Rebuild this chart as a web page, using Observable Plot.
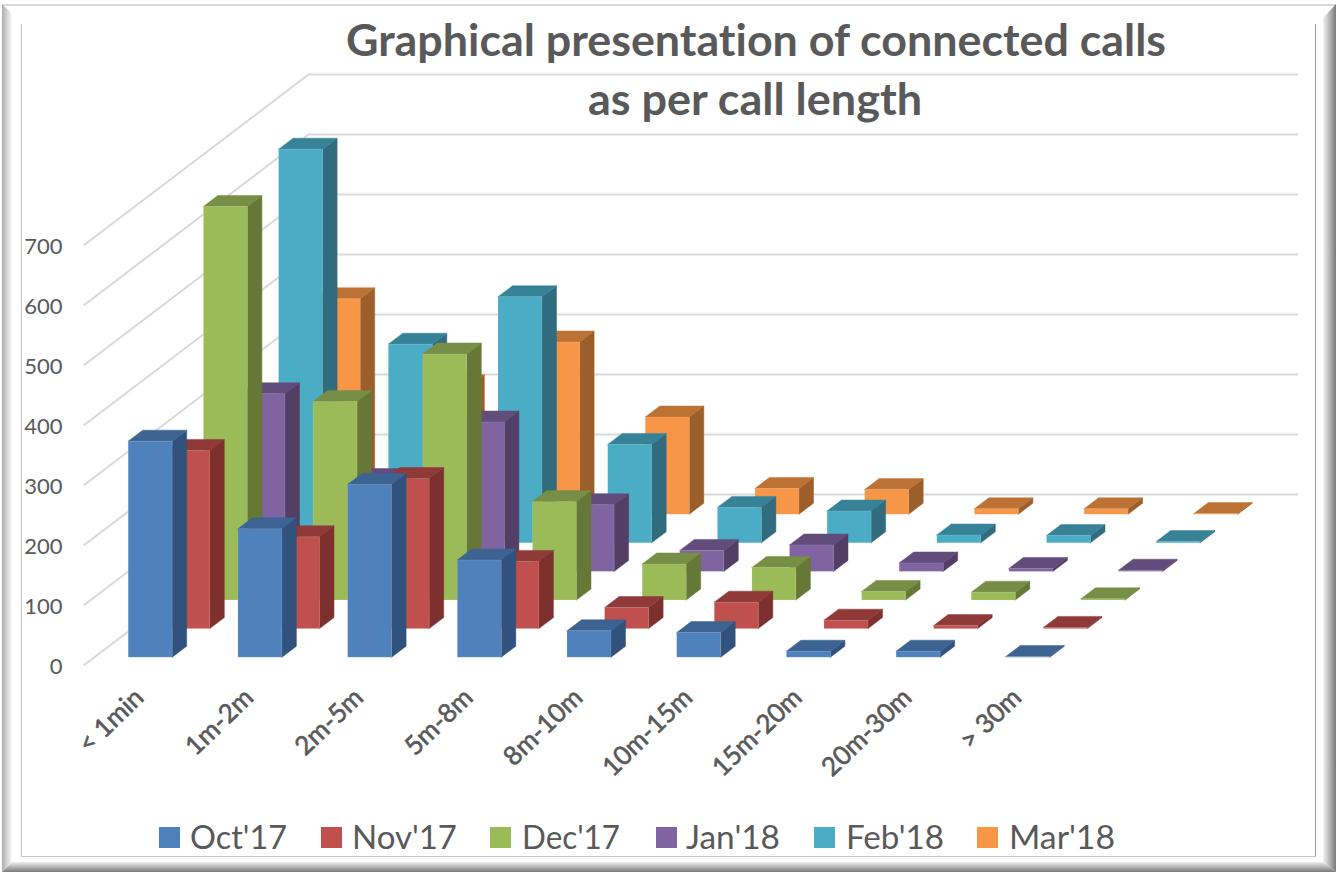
<!DOCTYPE html>
<html><head><meta charset="utf-8">
<script src="https://cdn.jsdelivr.net/npm/d3@7"></script>
<script src="https://cdn.jsdelivr.net/npm/@observablehq/plot@0.6"></script>
<style>
html,body{margin:0;padding:0;background:#fff;width:1336px;height:873px;overflow:hidden}
#chart{position:absolute;left:0;top:0}
#chart text{font-variant-ligatures:none}
.b{position:absolute}
.t{position:absolute;white-space:nowrap;color:#595959;font-family:Lato,sans-serif;transform-origin:0 0;font-variant-ligatures:none}
.sw{position:absolute;width:21px;height:21px;top:827px}
</style></head><body>
<div class="b" style="left:2px;top:4px;width:1334px;height:868px;background:#fff"></div>
<div class="b" style="left:2px;top:4px;width:1334px;height:2px;background:#d9d9d9"></div>
<div class="b" style="left:2px;top:4px;width:10px;height:868px;background:linear-gradient(90deg,#adadad,#fafafa);clip-path:polygon(0 0,100% 10px,100% 858px,0 100%)"></div>
<div class="b" style="left:1323px;top:4px;width:13px;height:868px;background:linear-gradient(90deg,#f4f4f4,#7a7a7a);clip-path:polygon(100% 0,0 14px,0 858px,100% 100%)"></div>
<div class="b" style="left:2px;top:862px;width:1334px;height:10px;background:linear-gradient(180deg,#efefef,#7a7a7a);clip-path:polygon(10px 0,1321px 0,100% 100%,0 100%)"></div>
<div class="b" style="left:21px;top:24px;width:1px;height:832px;background:#c8c8c8"></div>
<div class="b" style="left:1315px;top:24px;width:1px;height:832px;background:#9a9a9a"></div>
<div class="b" style="left:21px;top:856px;width:1295px;height:1px;background:#c8c8c8"></div>
<div id="chart"></div>
<div id="overlay"></div>
<script>
const categories = ["< 1min","1m-2m","2m-5m","5m-8m","8m-10m","10m-15m","15m-20m","20m-30m","> 30m"];
const seriesNames = ["Oct'17","Nov'17","Dec'17","Jan'18","Feb'18","Mar'18"];
const oct17 = [360,214,288,162,44,41,10,10,1];
const nov17 = [297,153,250,112,35,44,14,5,2];
const dec17 = [656,331,410,164,60,54,14,13,2];
const jan18 = [296,153,249,111,35,44,14,5,2];
const feb18 = [656,331,410,164,59,53,13,12,2];
const mar18 = [359,214,287,162,43,41,9,9,1];
const values = [oct17,nov17,dec17,jan18,feb18,mar18];
const yTicks = [0,100,200,300,400,500,600,700];
const frontColors = ["#4F81BD","#C0504D","#9BBB59","#8064A2","#4BACC6","#F79646"];
const sideColors  = ["#31527C","#7D302E","#667836","#533F66","#306C7E","#9C5E2A"];
const topColors   = ["#3C6391","#8F3938","#768E45","#624C7B","#388297","#BB7234"];

// oblique projection geometry (px)
const X0=127.7, XS=109.7, Y0=656.7, YS=0.6;
const px = p => (p-X0)/XS;            // page px -> category units
const py = p => p/YS;                 // px offset -> value units
const BW=44/XS, DX=14.5/XS, DY=py(11);
const SX=37.6/XS, SY=py(28.6);

function faces(s){
  const out=[];
  values[s].forEach((v,c)=>{
    const x1=c+s*SX, x2=x1+BW, b=s*SY, t=b+v;
    const poly=(kind,col,pts)=>pts.forEach(p=>out.push({z:`${s}-${c}-${kind}`,col,x:p[0],y:p[1]}));
    poly("side",sideColors[s],[[x2,b],[x2+DX,b+DY],[x2+DX,t+DY],[x2,t],[x2,b]]);
    poly("top",topColors[s],[[x1,t],[x1+DX,t+DY],[x2+DX,t+DY],[x2,t],[x1,t]]);
  });
  return out;
}
const barMarks = d3.range(5,-1,-1).flatMap(s=>[
  Plot.line(faces(s),{x:"x",y:"y",z:"z",fill:"col",stroke:"col",strokeWidth:0.5,curve:"linear"}),
  Plot.rect(values[s],{x1:(v,c)=>c+s*SX,x2:(v,c)=>c+s*SX+BW,y1:()=>s*SY,y2:v=>s*SY+v,fill:frontColors[s],stroke:"#fff",strokeOpacity:0.15,strokeWidth:0.8,dx:0.5,dy:0.5})
]);

const wallBack=px(308), wallEnd=px(1298), wallFront=px(83);
const floorFront=py(Y0-665), floorBack=py(Y0-494);
const gridBack=Plot.ruleY(yTicks,{y:v=>floorBack+v,x1:wallBack,x2:wallEnd,stroke:"#d9d9d9",strokeWidth:2});
const gridLeft=Plot.link(yTicks,{x1:wallFront,x2:wallBack,y1:v=>floorFront+v,y2:v=>floorBack+v,stroke:"#d9d9d9",strokeWidth:2});

const chart=Plot.plot({
  width:1336,height:873,margin:0,
  style:{background:"transparent",overflow:"visible"},
  x:{domain:[-X0/XS,(1336-X0)/XS],axis:null},
  y:{domain:[(Y0-873)/YS,Y0/YS],axis:null},
  color:{type:"identity"},
  marks:[
    gridLeft,gridBack,
    ...barMarks,
    Plot.text(yTicks,{x:px(62),y:v=>floorFront+v,text:v=>String(v),textAnchor:"end",fontSize:22,fill:"#595959",fontFamily:"Lato, sans-serif",dy:1}),
    Plot.text(categories,{x:(d,i)=>i+px(139),y:py(Y0-693),text:d=>d,rotate:-44,textAnchor:"end",lineAnchor:"middle",fontSize:26,fill:"#595959",stroke:"#595959",strokeWidth:0.6,fontFamily:"Lato, sans-serif"})
  ]
});
document.getElementById("chart").append(chart);

// title and legend
const ov=document.getElementById("overlay");
function addText(str,left,width,top,size,weight){
  const e=document.createElement("div");e.className="t";e.textContent=str;
  e.style.cssText=`left:${left}px;top:${top}px;font-size:${size}px;font-weight:${weight}`;
  ov.append(e);
  e.style.transform=`scaleX(${width/e.getBoundingClientRect().width})`;
}
addText("Graphical presentation of connected calls",346,820,13,44,700);
addText("as per call length",588,334,72,44,700);
const swX=[159,321,490,656,814,977], txX=[190,352,522,686,846,1009], txW=[97,105,98,94,98,106];
seriesNames.forEach((n,i)=>{
  const s=document.createElement("div");s.className="sw";s.style.left=swX[i]+"px";s.style.background=frontColors[i];ov.append(s);
  addText(n,txX[i],txW[i],816,33,400);
});
</script>
</body></html>
